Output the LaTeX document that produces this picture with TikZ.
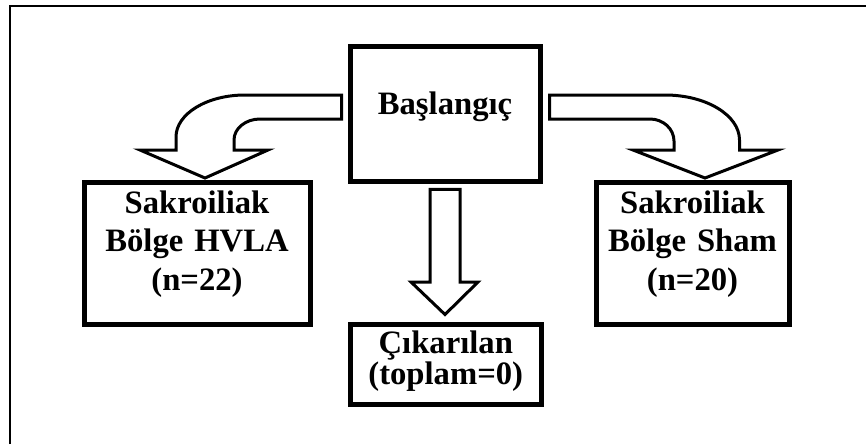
\documentclass[tikz,border=0pt]{standalone}
\usepackage{fontspec}
\setmainfont{Liberation Serif}
\usetikzlibrary{positioning,calc}

\tikzset{
  box/.style={draw, line width=3.75pt, inner sep=0pt},
  blockarrow/.style={draw, line width=2.25pt, line join=miter, fill=white},
  lbl/.style={font=\bfseries\fontsize{24.5}{29}\selectfont, align=center, inner sep=0pt, text width=140pt},
}

\begin{document}
\begin{tikzpicture}[x=0.75pt, y=-0.75pt]
\useasboundingbox (0,0) rectangle (866,444);
% frame
\draw[line width=1.6pt]
    (10,444) -- (10,6) -- (866,6);

% boxes
\node[box, minimum width=142.5pt, minimum height=101.6pt] (start) at (445,114.25) {};
\node[box, minimum width=169.5pt, minimum height=106pt] (hvla) at (197,253.5) {};
\node[box, minimum width=144.75pt, minimum height=106pt] (sham) at (692.5,253.5) {};
\node[box, minimum width=142.9pt, minimum height=60pt] (removed) at (445.75,364) {};

\node[lbl, below=36pt of start.north] (startlbl) {Başlangıç};
\node[lbl, below=7.5pt of hvla.north] (hvlalbl) {Sakroiliak\\Bölge HVLA\\(n=22)};
\node[lbl, below=7.5pt of sham.north] (shamlbl) {Sakroiliak\\Bölge Sham\\(n=20)};
\node[lbl, font=\bfseries\fontsize{24.5}{22}\selectfont, below=6.75pt of removed.north] (removedlbl) {Çıkarılan\\(toplam=0)};

% block arrows
\draw[blockarrow]
    ([xshift=-4.5pt]start.west |- 0,95) -- (245,95)
    .. controls (206.9,95) and (176,113.8) .. (176,137)
    -- (176,150) -- (140,150) -- (205,178) -- (268,150) -- (234,150) -- (234,140)
    .. controls (234,128.4) and (245.6,119) .. (260,119)
    -- ([xshift=-4.5pt]start.west |- 0,119) -- cycle;
\draw[blockarrow]
    ([xshift=5.25pt]start.east |- 0,95) -- (665,95)
    .. controls (706.1,95) and (739.5,115.2) .. (739.5,140)
    -- (739.5,150) -- (778,150) -- (705,178) -- (633,150) -- (674,150) -- (674,141)
    .. controls (674,128.9) and (663.2,119) .. (650,119)
    -- ([xshift=5.25pt]start.east |- 0,119) -- cycle;
\draw[blockarrow]
    ($(start.south)+(-15,5)$) -- ($(start.south)+(15,5)$) -- (460,282) -- (478,282)
    -- ($(removed.north)+(-0.75,-7)$) -- (411,282) -- (430,282) -- cycle;
\end{tikzpicture}
\end{document}
